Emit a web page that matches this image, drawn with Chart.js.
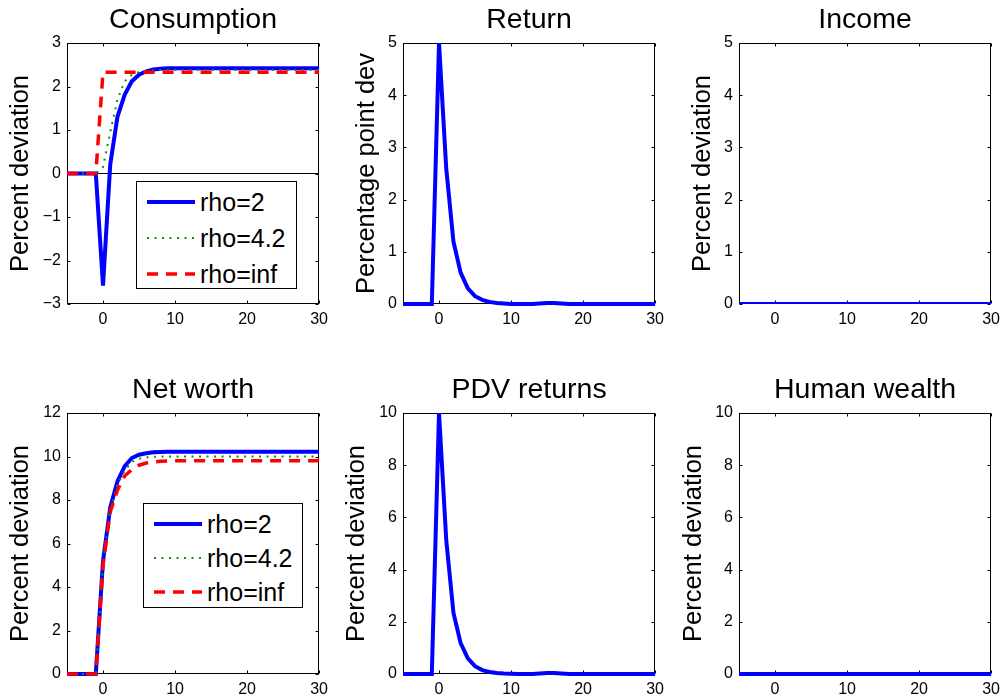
<!DOCTYPE html>
<html lang="en">
<head>
<meta charset="UTF-8">
<title>Impulse responses</title>
<script src="https://cdn.jsdelivr.net/npm/chart.js"></script>
<style>
  body { margin: 0; background: #fff; font-family: "Liberation Sans", Arial, sans-serif; }
  #wrap { position: relative; width: 1006px; height: 700px; overflow: hidden; }
  canvas { position: absolute; }
  .legend { position: absolute; border: 1px solid #000; background: #fff; box-sizing: border-box; font-size: 25px; color: #000; }
  .legend .row { display: flex; align-items: center; }
  .legend svg { margin-left: 10px; margin-right: 5px; }
</style>
</head>
<body>
<div id="wrap"></div>
<script>
// periods relative to the shock
const periods = [-5, -4, -3, -2, -1, 0, 1, 2, 3, 4, 5, 6, 7, 8, 9, 10, 11, 12, 13, 14, 15, 16, 17, 18, 19, 20, 21, 22, 23, 24, 25, 26, 27, 28, 29, 30];
const xTicks = [0, 10, 20, 30];
const seriesNames = ['rho=2', 'rho=4.2', 'rho=inf'];

// Consumption
const consRho2 = [0, 0, 0, 0, 0, -2.58, 0.2, 1.3, 1.81, 2.12, 2.27, 2.35, 2.39, 2.41, 2.42, 2.42, 2.42, 2.42, 2.42, 2.42, 2.42, 2.42, 2.42, 2.42, 2.42, 2.42, 2.42, 2.42, 2.42, 2.42, 2.42, 2.42, 2.42, 2.42, 2.42, 2.42];
const consRho42 = [0, 0, 0, 0, 0, 0.15, 0.95, 1.7, 2.12, 2.27, 2.33, 2.36, 2.37, 2.38, 2.38, 2.38, 2.38, 2.38, 2.38, 2.38, 2.38, 2.38, 2.38, 2.38, 2.38, 2.38, 2.38, 2.38, 2.38, 2.38, 2.38, 2.38, 2.38, 2.38, 2.38, 2.38];
const consRhoInf = [0, 0, 0, 0, 0, 2.33, 2.33, 2.33, 2.33, 2.33, 2.33, 2.33, 2.33, 2.33, 2.33, 2.33, 2.33, 2.33, 2.33, 2.33, 2.33, 2.33, 2.33, 2.33, 2.33, 2.33, 2.33, 2.33, 2.33, 2.33, 2.33, 2.33, 2.33, 2.33, 2.33, 2.33];
const consTicks = [-3, -2, -1, 0, 1, 2, 3];

// Return
const returnRho2 = [0, 0, 0, 0, 0, 5.0, 2.6, 1.2, 0.6, 0.3, 0.15, 0.08, 0.04, 0.02, 0.01, 0, 0, 0, 0, 0.01, 0.02, 0.02, 0.01, 0, 0, 0, 0, 0, 0, 0, 0, 0, 0, 0, 0, 0];
const returnTicks = [0, 1, 2, 3, 4, 5];

// Income
const incomeRho2 = [0, 0, 0, 0, 0, 0, 0, 0, 0, 0, 0, 0, 0, 0, 0, 0, 0, 0, 0, 0, 0, 0, 0, 0, 0, 0, 0, 0, 0, 0, 0, 0, 0, 0, 0, 0];
const incomeTicks = [0, 1, 2, 3, 4, 5];

// Net worth
const nwRho2 = [0, 0, 0, 0, 0, 5.2, 7.65, 8.85, 9.55, 9.93, 10.08, 10.15, 10.19, 10.21, 10.22, 10.22, 10.22, 10.22, 10.22, 10.22, 10.22, 10.22, 10.22, 10.22, 10.22, 10.22, 10.22, 10.22, 10.22, 10.22, 10.22, 10.22, 10.22, 10.22, 10.22, 10.22];
const nwRho42 = [0, 0, 0, 0, 0, 5.1, 7.55, 8.7, 9.35, 9.75, 9.9, 9.96, 9.99, 10.0, 10.0, 10.0, 10.0, 10.0, 10.0, 10.0, 10.0, 10.0, 10.0, 10.0, 10.0, 10.0, 10.0, 10.0, 10.0, 10.0, 10.0, 10.0, 10.0, 10.0, 10.0, 10.0];
const nwRhoInf = [0, 0, 0, 0, 0, 5.0, 7.45, 8.45, 9.1, 9.4, 9.6, 9.7, 9.75, 9.78, 9.8, 9.8, 9.8, 9.8, 9.8, 9.8, 9.8, 9.8, 9.8, 9.8, 9.8, 9.8, 9.8, 9.8, 9.8, 9.8, 9.8, 9.8, 9.8, 9.8, 9.8, 9.8];
const nwTicks = [0, 2, 4, 6, 8, 10, 12];

// PDV returns
const pdvRho2 = [0, 0, 0, 0, 0, 10, 5.15, 2.35, 1.18, 0.6, 0.3, 0.15, 0.08, 0.04, 0.02, 0.01, 0, 0, 0, 0.02, 0.04, 0.04, 0.02, 0, 0, 0, 0, 0, 0, 0, 0, 0, 0, 0, 0, 0];
const pdvTicks = [0, 2, 4, 6, 8, 10];

// Human wealth
const hwRho2 = [0, 0, 0, 0, 0, 0, 0, 0, 0, 0, 0, 0, 0, 0, 0, 0, 0, 0, 0, 0, 0, 0, 0, 0, 0, 0, 0, 0, 0, 0, 0, 0, 0, 0, 0, 0];
const hwTicks = [0, 2, 4, 6, 8, 10];

const lineStyles = [
  { color: '#0000ff', width: 4, dash: [], order: 2 },
  { color: '#168a16', width: 2, dash: [2, 5.5], order: 1 },
  { color: '#ff0000', width: 3.5, dash: [11, 8], order: 0 }
];

Chart.defaults.font.family = '"Liberation Sans", Arial, sans-serif';
Chart.defaults.color = '#000';

const PLOT_W = 255, PLOT_H = 261, Y_AXIS_W = 60, TITLE_H = 43, X_AXIS_H = 26, RIGHT_PAD = 12;

const panels = [
  { title: 'Consumption', yLabel: 'Percent deviation', min: -3, max: 3, ticks: consTicks,
    series: [consRho2, consRho42, consRhoInf], left: 67, top: 43, labelPad: 1.5, zeroLine: true,
    legend: { left: 136, top: 181, width: 161, height: 108, rowH: 36, padTop: 2 } },
  { title: 'Return', yLabel: 'Percentage point dev', min: 0, max: 5, ticks: returnTicks,
    series: [returnRho2], left: 403, top: 43, labelPad: 11 },
  { title: 'Income', yLabel: 'Percent deviation', min: 0, max: 5, ticks: incomeTicks,
    series: [incomeRho2], left: 739, top: 43, labelPad: 11, clipBottom: 0 },
  { title: 'Net worth', yLabel: 'Percent deviation', min: 0, max: 12, ticks: nwTicks,
    series: [nwRho2, nwRho42, nwRhoInf], left: 67, top: 413, labelPad: 1.5,
    legend: { left: 143, top: 503, width: 160, height: 105, rowH: 34, padTop: 3 } },
  { title: 'PDV returns', yLabel: 'Percent deviation', min: 0, max: 10, ticks: pdvTicks,
    series: [pdvRho2], left: 403, top: 413, labelPad: 1 },
  { title: 'Human wealth', yLabel: 'Percent deviation', min: 0, max: 10, ticks: hwTicks,
    series: [hwRho2], left: 739, top: 413, labelPad: 2 }
];

// MATLAB style box with inward tick marks on all four sides
const boxPlugin = {
  id: 'matlabBox',
  beforeDatasetsDraw(chart) {
    const { ctx, chartArea: a, scales } = chart;
    const L = Math.round(a.left) + 0.5, R = Math.round(a.right) - 0.5;
    const T = Math.round(a.top) + 0.5, B = Math.round(a.bottom) - 0.5;
    ctx.save();
    ctx.strokeStyle = '#000';
    ctx.lineWidth = 1;
    ctx.strokeRect(L, T, R - L, B - T);
    ctx.beginPath();
    scales.x.ticks.forEach(t => {
      const px = Math.round(scales.x.getPixelForValue(t.value)) + 0.5;
      ctx.moveTo(px, B); ctx.lineTo(px, B - 3);
      ctx.moveTo(px, T); ctx.lineTo(px, T + 3);
    });
    scales.y.ticks.forEach(t => {
      const py = Math.round(scales.y.getPixelForValue(t.value)) + 0.5;
      ctx.moveTo(L, py); ctx.lineTo(L + 3, py);
      ctx.moveTo(R, py); ctx.lineTo(R - 3, py);
    });
    ctx.stroke();
    ctx.restore();
  }
};

const wrap = document.getElementById('wrap');

panels.forEach(p => {
  const canvas = document.createElement('canvas');
  canvas.width = Y_AXIS_W + PLOT_W + RIGHT_PAD;
  canvas.height = TITLE_H + PLOT_H + X_AXIS_H;
  canvas.style.left = (p.left - Y_AXIS_W) + 'px';
  canvas.style.top = (p.top - TITLE_H) + 'px';
  wrap.appendChild(canvas);

  const clipBottom = p.clipBottom !== undefined ? p.clipBottom : 4;
  const datasets = p.series.map((vals, i) => ({
    label: seriesNames[i],
    data: periods.map((t, k) => ({ x: t, y: vals[k] })),
    borderColor: lineStyles[i].color,
    borderWidth: lineStyles[i].width,
    borderDash: lineStyles[i].dash,
    order: lineStyles[i].order,
    pointRadius: 0,
    tension: 0,
    fill: false,
    clip: { left: 2, right: 2, top: 0, bottom: clipBottom }
  }));

  new Chart(canvas, {
    type: 'line',
    data: { datasets },
    options: {
      responsive: false,
      animation: false,
      layout: { padding: { left: 0, right: RIGHT_PAD, top: 0, bottom: 0 } },
      plugins: {
        legend: { display: false },
        tooltip: { enabled: false },
        title: {
          display: true, text: p.title, fullSize: false,
          font: { size: 28.5, weight: 'normal', lineHeight: 1.2 },
          padding: { top: 2.8, bottom: 6 }
        }
      },
      scales: {
        x: {
          type: 'linear', min: -5, max: 30,
          afterBuildTicks: s => { s.ticks = xTicks.map(v => ({ value: v })); },
          afterFit: s => { s.height = X_AXIS_H; },
          grid: { display: false, drawTicks: false },
          border: { display: false },
          ticks: { font: { size: 16 }, padding: 6, maxRotation: 0 }
        },
        y: {
          type: 'linear', min: p.min, max: p.max,
          afterBuildTicks: s => { s.ticks = p.ticks.map(v => ({ value: v })); },
          afterFit: s => { s.width = Y_AXIS_W; },
          grid: {
            display: !!p.zeroLine, drawTicks: false,
            color: c => (c.tick && c.tick.value === 0) ? '#000' : 'rgba(0,0,0,0)',
            lineWidth: 1
          },
          border: { display: false },
          ticks: {
            font: { size: 16 }, padding: 6,
            callback: v => v < 0 ? '\u2212' + Math.abs(v) : String(v)
          },
          title: {
            display: true, text: p.yLabel,
            font: { size: 25.5, lineHeight: 1 },
            padding: { top: p.labelPad, bottom: 0 }
          }
        }
      }
    },
    plugins: [boxPlugin]
  });

  if (p.legend) {
    const lg = p.legend;
    const box = document.createElement('div');
    box.className = 'legend';
    Object.assign(box.style, {
      left: lg.left + 'px', top: lg.top + 'px',
      width: lg.width + 'px', height: lg.height + 'px',
      paddingTop: lg.padTop + 'px'
    });
    seriesNames.forEach((name, i) => {
      const st = lineStyles[i];
      const row = document.createElement('div');
      row.className = 'row';
      row.style.height = lg.rowH + 'px';
      row.innerHTML =
        '<svg width="48" height="10"><line x1="0" y1="5" x2="48" y2="5" stroke="' + st.color +
        '" stroke-width="' + st.width + '" stroke-dasharray="' + (st.dash.join(' ') || 'none') +
        '"/></svg><span>' + name + '</span>';
      box.appendChild(row);
    });
    wrap.appendChild(box);
  }
});
</script>
</body>
</html>
